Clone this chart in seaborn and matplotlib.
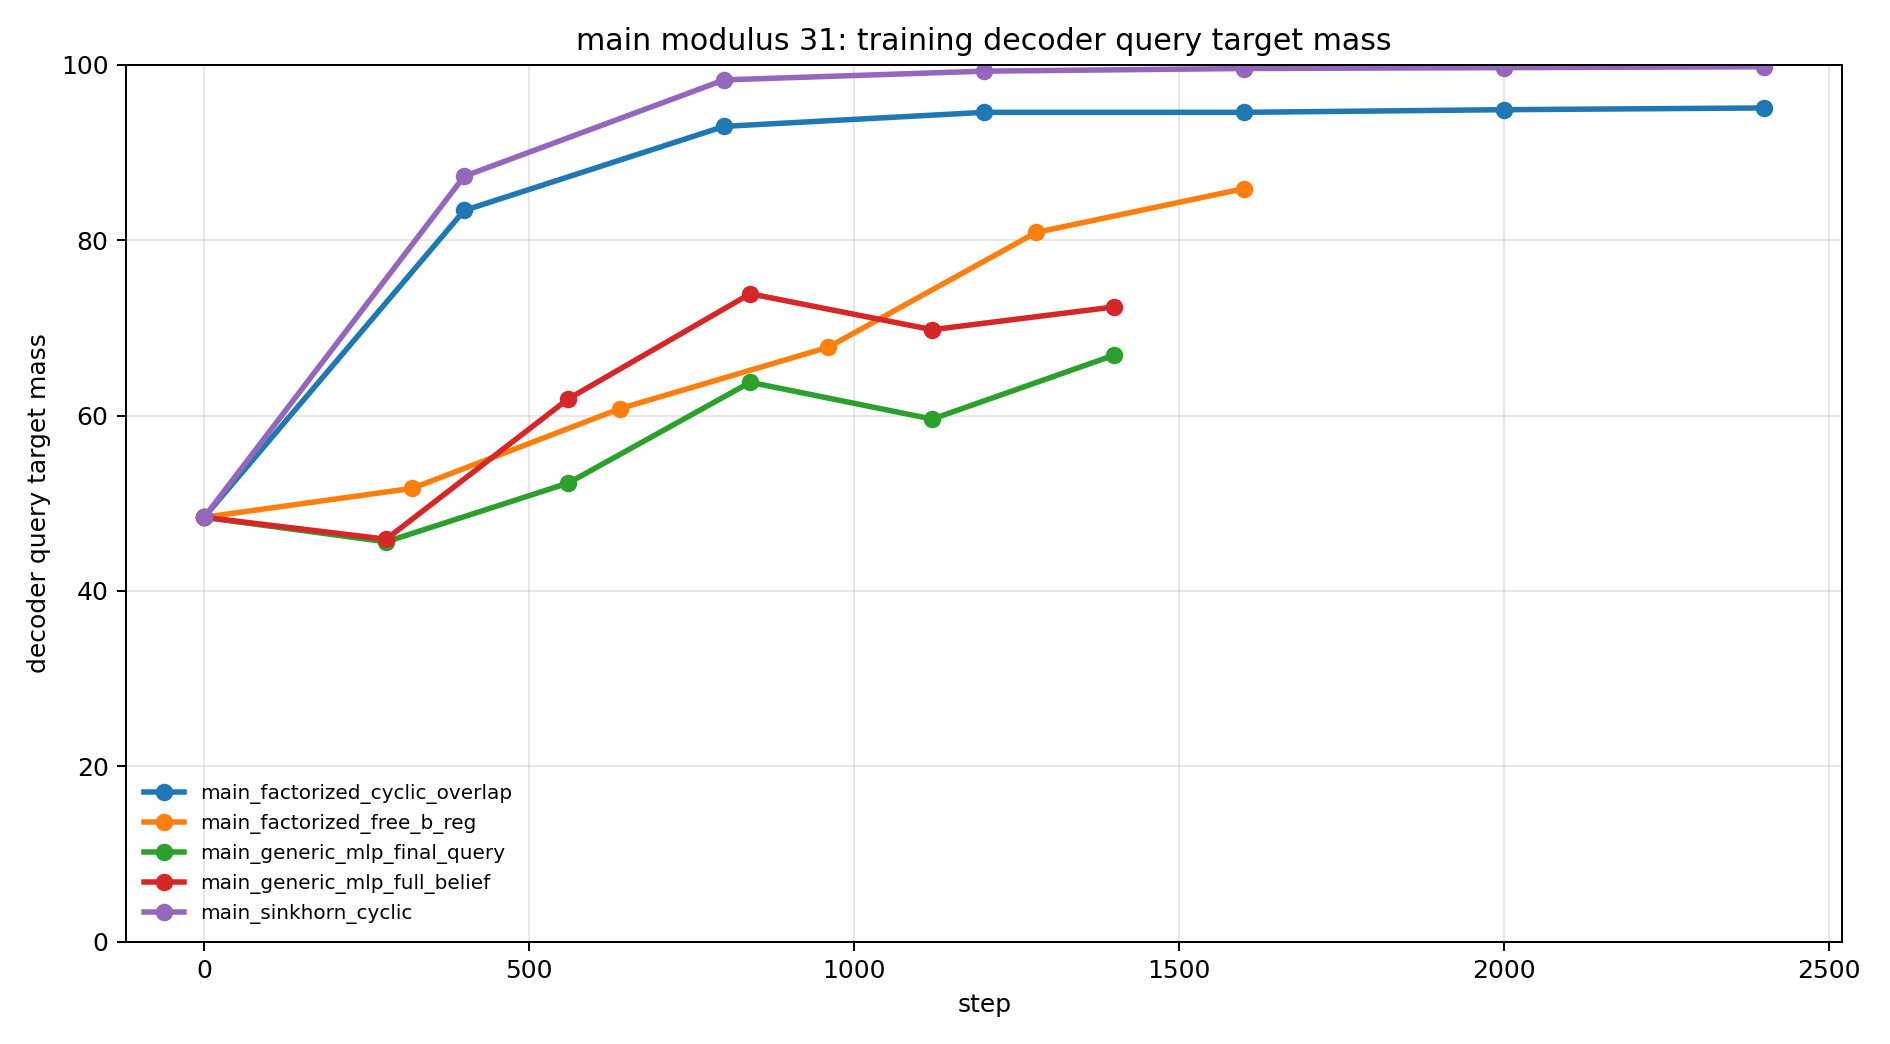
import matplotlib
matplotlib.use("Agg")
import matplotlib.pyplot as plt
import seaborn as sns
import pandas as pd

# ── data ──
cyclic_overlap_steps = [0, 400, 800, 1200, 1600, 2000, 2400]
cyclic_overlap_mass = [48.4, 83.4, 93.0, 94.6, 94.6, 94.9, 95.1]

free_b_reg_steps = [0, 320, 640, 960, 1280, 1600]
free_b_reg_mass = [48.4, 51.7, 60.8, 67.8, 80.9, 85.9]

final_query_steps = [0, 280, 560, 840, 1120, 1400]
final_query_mass = [48.4, 45.6, 52.3, 63.8, 59.6, 66.9]

full_belief_steps = [0, 280, 560, 840, 1120, 1400]
full_belief_mass = [48.4, 45.9, 61.9, 73.9, 69.8, 72.4]

sinkhorn_steps = [0, 400, 800, 1200, 1600, 2000, 2400]
sinkhorn_mass = [48.4, 87.3, 98.3, 99.3, 99.6, 99.7, 99.8]

runs = [
    ("main_factorized_cyclic_overlap", cyclic_overlap_steps, cyclic_overlap_mass),
    ("main_factorized_free_b_reg", free_b_reg_steps, free_b_reg_mass),
    ("main_generic_mlp_final_query", final_query_steps, final_query_mass),
    ("main_generic_mlp_full_belief", full_belief_steps, full_belief_mass),
    ("main_sinkhorn_cyclic", sinkhorn_steps, sinkhorn_mass),
]

df = pd.concat(
    [pd.DataFrame({"run": name, "step": s, "mass": m}) for name, s, m in runs],
    ignore_index=True,
)

# ── plot ──
fig, ax = plt.subplots(figsize=(10.5, 5.8), dpi=180)
palette = ["#1f77b4", "#ff7f0e", "#2ca02c", "#d62728", "#9467bd"]
sns.lineplot(
    data=df, x="step", y="mass", hue="run", palette=palette,
    marker="o", markersize=7, markeredgewidth=0, linewidth=2.2,
    sort=False, ax=ax,
)
ax.set_ylim(0, 100)
ax.set_xlabel("step")
ax.set_ylabel("decoder query target mass")
ax.set_title("main modulus 31: training decoder query target mass")
ax.grid(alpha=0.3)
ax.legend(loc="lower left", fontsize=8, frameon=False, title=None)
fig.tight_layout()
fig.savefig("out.png", dpi=180)
